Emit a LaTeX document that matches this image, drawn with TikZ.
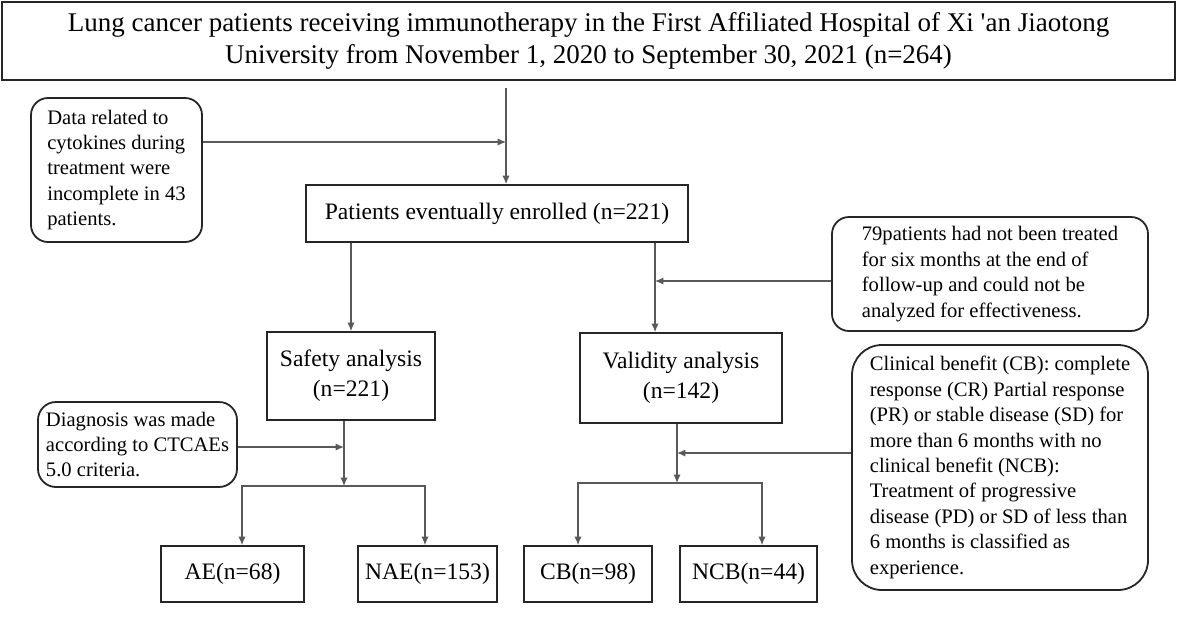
\documentclass[tikz,border=0pt]{standalone}
\usepackage{fontspec}
\setmainfont{Liberation Serif}
\usetikzlibrary{positioning, calc, arrows, arrows.meta}
\tikzset{>={Latex[length=4.2pt,width=3.6pt]}}
\colorlet{linegray}{black!65}
\tikzset{
  box/.style={draw=black!85, line width=0.9pt, align=center, inner sep=0pt, font=\fontsize{11.8}{15}\selectfont},
  note/.style={draw=black!85, line width=0.9pt, rounded corners=8.5pt, align=left, inner sep=0pt, font=\fontsize{10.3}{12.7}\selectfont},
  link/.style={->, draw=linegray, line width=0.6pt}
}

\begin{document}
\begin{tikzpicture}[x=0.5pt, y=-0.5pt]
  \useasboundingbox (0,0) rectangle (1181,627);
  % Main boxes
  \node[box, minimum width=586.5pt, minimum height=39pt, font=\fontsize{13.5}{16}\selectfont] (cohort) at (588.5,41) {Lung cancer patients receiving immunotherapy in the First Affiliated Hospital of Xi \textquotesingle an Jiaotong\\University from November 1, 2020 to September 30, 2021 (n=264)};
  \node[box, minimum width=191pt, minimum height=28.5pt] (enrolled) at (497,213.5) {Patients eventually enrolled (n=221)};
  \node[box, minimum width=84pt, minimum height=44pt] (safety) at (351,376) {Safety analysis\\(n=221)};
  \node[box, minimum width=101pt, minimum height=45pt] (validity) at (681,378) {Validity analysis\\(n=142)};
  % Outcome groups
  \foreach \name/\x/\w/\txt in {ae/232.5/71.5pt/AE(n=68), nae/427.5/69.5pt/NAE(n=153), cb/588/64pt/CB(n=98), ncb/748.5/68.5pt/NCB(n=44)}
    \node[box, minimum width=\w, minimum height=28pt] (\name) at (\x,574) {\txt};

  % Side notes
  \node[note, minimum width=85.5pt, minimum height=72pt] (missing) at (116.5,170) {Data related to\\cytokines during\\treatment were\\incomplete in 43\\patients.};
  \node[note, minimum width=158pt, minimum height=57pt] (followup) at (990,274) {79patients had not been treated\\for six months at the end of\\follow-up and could not be\\analyzed for effectiveness.};
  \node[note, minimum width=99.5pt, minimum height=42.5pt, rounded corners=9pt] (criteria) at (137.5,444.5) {Diagnosis was made\\according to CTCAEs\\5.0 criteria.};
  \node[note, minimum width=148pt, minimum height=122.5pt, rounded corners=15pt] (benefit) at (1000,467.5) {Clinical benefit (CB): complete\\response (CR) Partial response\\(PR) or stable disease (SD) for\\more than 6 months with no\\clinical benefit (NCB):\\Treatment of progressive\\disease (PD) or SD of less than\\6 months is classified as\\experience.};

  % Junctions
  \coordinate (j1) at (506,142);
  \coordinate (j2) at (655,281);
  \coordinate (j3) at (344,447);
  \coordinate (j4) at (677,453);
  \coordinate (split1) at (344,486);
  \coordinate (split2) at (677,483);
  \coordinate (l1) at (242,486);
  \coordinate (r1) at (425,486);
  \coordinate (l2) at (578,483);
  \coordinate (r2) at (762,483);

  % Arrows
  \draw[link] ([yshift=-3.5pt]cohort.south -| j1) -- (enrolled.north -| j1);
  \draw[link] (missing.east |- j1) -- (j1);
  \draw[link] (enrolled.south -| safety.north) -- (safety.north);
  \draw[link] (enrolled.south -| j2) -- (validity.north -| j2);
  \draw[link] (followup.west |- j2) -- (j2);
  \draw[link] (safety.south -| j3) -- (split1);
  \draw[link] (criteria.east |- j3) -- (j3);
  \draw[link] (validity.south -| j4) -- (split2);
  \draw[link] (benefit.west |- j4) -- (j4);
  \draw[link, <->] (ae.north -| l1) |- (split1) -| (nae.north -| r1);
  \draw[link, <->] (cb.north -| l2) |- (split2) -| (ncb.north -| r2);
\end{tikzpicture}
\end{document}
